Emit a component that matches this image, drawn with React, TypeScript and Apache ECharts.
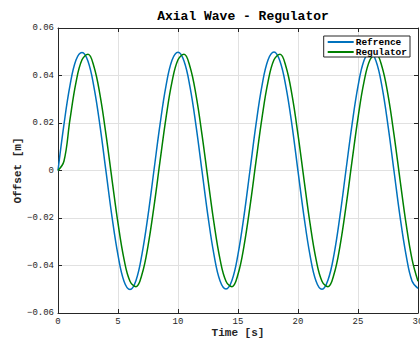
import React, { useEffect, useRef } from "react";
import * as echarts from "echarts";

const times = [
  0, 0.5, 1, 1.5, 2, 2.5, 3, 3.5, 4, 4.5, 5, 5.5, 6, 6.5, 7, 7.5,
  8, 8.5, 9, 9.5, 10, 10.5, 11, 11.5, 12, 12.5, 13, 13.5, 14, 14.5, 15, 15.5,
  16, 16.5, 17, 17.5, 18, 18.5, 19, 19.5, 20, 20.5, 21, 21.5, 22, 22.5, 23, 23.5,
  24, 24.5, 25, 25.5, 26, 26.5, 27, 27.5, 28, 28.5, 29, 29.5, 30,
];

const reference = [
  0, 0.0195, 0.0358, 0.0465, 0.0497, 0.046, 0.035, 0.0188, -0.0004, -0.0195, -0.0356, -0.0466, -0.0501, -0.0463, -0.0352, -0.019,
  0.0002, 0.0193, 0.0356, 0.0464, 0.0498, 0.0461, 0.0352, 0.0189, -0.0002, -0.0193, -0.0355, -0.0464, -0.0499, -0.0462, -0.0353, -0.0191,
  0.0001, 0.0194, 0.0357, 0.0465, 0.0499, 0.046, 0.0351, 0.019, -0.0003, -0.0194, -0.0356, -0.0465, -0.05, -0.0461, -0.0354, -0.019,
  0.0002, 0.0192, 0.0355, 0.0463, 0.0498, 0.0461, 0.0353, 0.0189, -0.0002, -0.0193, -0.0354, -0.0465, -0.0496,
];

const regulator = [
  0,
  0.004, 0.0215, 0.0371, 0.0466, 0.0489, 0.0437, 0.0318, 0.0151, -0.0038, -0.0222, -0.0373, -0.0466, -0.0489, -0.0437, -0.0318, -0.0151,
  0.0038, 0.0222, 0.0373, 0.0466, 0.0489, 0.0437, 0.0318, 0.0151, -0.0038, -0.0222, -0.0373, -0.0466, -0.0489, -0.0437, -0.0318, -0.0151,
  0.0038, 0.0222, 0.0373, 0.0466, 0.0489, 0.0437, 0.0318, 0.0151, -0.0038, -0.0222, -0.0373, -0.0466, -0.0489, -0.0437, -0.0318, -0.0151,
  0.0038, 0.0222, 0.0373, 0.0466, 0.0489, 0.0437, 0.0318, 0.0151, -0.0038, -0.0222, -0.0373, -0.0466,
];

const seriesNames = ["Refrence", "Regulator"];
const title = "Axial Wave - Regulator";
const xName = "Time [s]";
const yName = "Offset [m]";

const FONT = "'Liberation Mono', 'DejaVu Sans Mono', monospace";
const AX = "#262626";
const BLUE = "#0072BD";
const GREEN = "#008000";

export default function App() {
  const ref = useRef<HTMLDivElement>(null);
  useEffect(() => {
    if (!ref.current) return;
    const chart = echarts.init(ref.current, undefined, { renderer: "svg" });
    const fmtY = (v: number) => (v === 0 ? "0" : v.toFixed(2).replace("-", "\u2212"));
    const tick = { show: true, inside: true, length: 4, lineStyle: { color: AX } };
    const line = { show: true, onZero: false, lineStyle: { color: AX, width: 1 } };
    chart.setOption({
      animation: false,
      backgroundColor: "#ffffff",
      title: {
        text: title,
        left: 238,
        textAlign: "center",
        top: 5,
        textStyle: { fontFamily: FONT, fontWeight: "bold", fontSize: 13, color: "#000" },
      },
      legend: {
        data: seriesNames,
        orient: "vertical",
        right: 10,
        top: 36,
        icon: "rect",
        itemWidth: 26,
        itemHeight: 2,
        itemGap: 0,
        padding: [1, 3, 0, 4],
        backgroundColor: "#ffffff",
        borderColor: AX,
        borderWidth: 1,
        textStyle: {
          fontFamily: FONT,
          fontWeight: "bold",
          fontSize: 9.5,
          color: "#000",
          lineHeight: 10,
          padding: [0, 0, 0, -3],
        },
      },
      grid: { left: 58, right: 2, top: 28, bottom: 27, outerBoundsMode: "none", containLabel: false },
      xAxis: [
        {
          type: "value",
          min: 0,
          max: 30,
          interval: 5,
          name: xName,
          nameLocation: "middle",
          nameGap: 14,
          nameMoveOverlap: false,
          nameTextStyle: { fontFamily: FONT, fontWeight: "bold", fontSize: 11, color: AX },
          axisLine: line,
          axisTick: tick,
          axisLabel: { fontFamily: FONT, fontSize: 9, color: AX, margin: 4 },
          splitLine: { show: true, lineStyle: { color: "#e1e1e1", width: 1 } },
        },
        {
          type: "value",
          position: "top",
          min: 0,
          max: 30,
          interval: 5,
          axisLine: line,
          axisTick: tick,
          axisLabel: { show: false },
          splitLine: { show: false },
        },
      ],
      yAxis: [
        {
          type: "value",
          min: -0.06,
          max: 0.06,
          interval: 0.02,
          name: yName,
          nameLocation: "middle",
          nameGap: 35,
          nameMoveOverlap: false,
          nameTextStyle: { fontFamily: FONT, fontWeight: "bold", fontSize: 11, color: AX },
          axisLine: line,
          axisTick: tick,
          axisLabel: { fontFamily: FONT, fontSize: 9, color: AX, margin: 4, formatter: fmtY },
          splitLine: { show: true, lineStyle: { color: "#e1e1e1", width: 1 } },
        },
        {
          type: "value",
          position: "right",
          min: -0.06,
          max: 0.06,
          interval: 0.02,
          axisLine: line,
          axisTick: tick,
          axisLabel: { show: false },
          splitLine: { show: false },
        },
      ],
      series: [
        {
          name: seriesNames[0],
          type: "line",
          data: times.map((t, i) => [t, reference[i]]),
          smooth: 0.4,
          symbol: "none",
          lineStyle: { color: BLUE, width: 1.5 },
          itemStyle: { color: BLUE },
        },
        {
          name: seriesNames[1],
          type: "line",
          data: times.map((t, i) => [t, regulator[i]]),
          smooth: 0.4,
          symbol: "none",
          lineStyle: { color: GREEN, width: 1.5 },
          itemStyle: { color: GREEN },
        },
      ],
    });
    return () => chart.dispose();
  }, []);
  return <div ref={ref} style={{ width: 420, height: 340, position: "absolute", left: 0, top: 0 }} />;
}
